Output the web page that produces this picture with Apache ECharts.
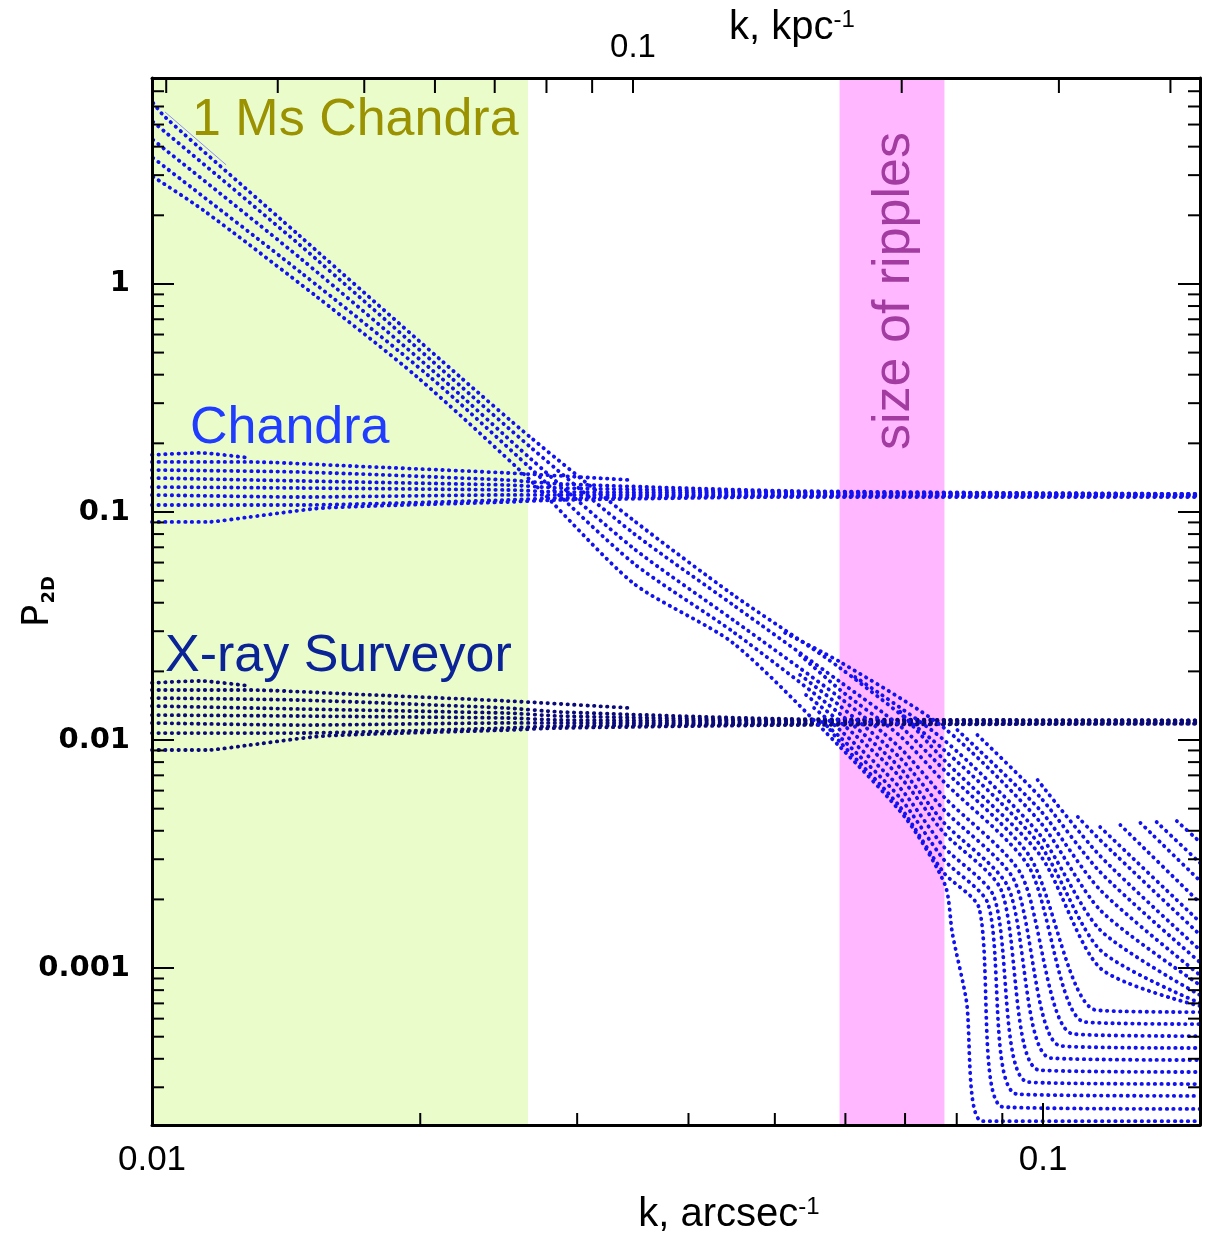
<!DOCTYPE html>
<html>
<head>
<meta charset="utf-8">
<title>P2D vs k</title>
<script src="https://cdn.jsdelivr.net/npm/echarts@6/dist/echarts.min.js"></script>
<style>
  html, body { margin: 0; padding: 0; background: #fff; }
  #chart { width: 1212px; height: 1235px; }
</style>
</head>
<body>
<div id="chart"></div>
<script>
// axis extents
var kRange = [0.01, 0.15];          // k, arcsec^-1
var kpcRange = [0.02892, 0.4317];   // k, kpc^-1 (top axis)
var pRange = [0.000205, 8];         // P_2D

// shaded k ranges
var msChandraBand = [0.01, 0.02642];
var ripplesBand = [0.0591, 0.0775];

// minor ticks (2..9 in each decade)
var pMinorTicks = [0.0003, 0.0004, 0.0005, 0.0006, 0.0007, 0.0008, 0.0009,
  0.002, 0.003, 0.004, 0.005, 0.006, 0.007, 0.008, 0.009,
  0.02, 0.03, 0.04, 0.05, 0.06, 0.07, 0.08, 0.09,
  0.2, 0.3, 0.4, 0.5, 0.6, 0.7, 0.8, 0.9,
  2, 3, 4, 5, 6, 7];
var kMinorTicks = [0.02, 0.03, 0.04, 0.05, 0.06, 0.07, 0.08, 0.09];
var kpcMinorTicks = [0.03, 0.04, 0.05, 0.06, 0.07, 0.08, 0.09, 0.2, 0.3, 0.4];

// Chandra noise band [k, P]
var chandra1 = [[0.01, 0.178], [0.01132, 0.1815], [0.01288, 0.1725]];
var chandra2 = [[0.01, 0.1657], [0.01288, 0.1657], [0.01668, 0.1591], [0.02504, 0.1483], [0.03443, 0.1381]];
var chandra3 = [[0.01, 0.1528], [0.01466, 0.1497], [0.02504, 0.1381], [0.0287, 0.1327], [0.05203, 0.1237], [0.15, 0.1199]];
var chandra4 = [[0.01, 0.141], [0.01466, 0.1368], [0.02504, 0.1313], [0.0287, 0.1274], [0.05203, 0.1224], [0.15, 0.1199]];
var chandra5 = [[0.01, 0.1287], [0.01466, 0.1274], [0.02504, 0.1249], [0.0287, 0.1224], [0.05203, 0.1212], [0.15, 0.1188]];
var chandra6 = [[0.01, 0.1188], [0.01466, 0.1163], [0.02504, 0.1188], [0.0287, 0.1188], [0.05203, 0.1188], [0.15, 0.1188]];
var chandra7 = [[0.01, 0.1073], [0.01466, 0.1073], [0.01898, 0.1095], [0.02504, 0.1129], [0.0287, 0.1151], [0.05203, 0.1175], [0.15, 0.1175]];
var chandra8 = [[0.01, 0.0904], [0.01153, 0.0904], [0.01288, 0.0951], [0.01556, 0.1041], [0.02504, 0.1106], [0.0287, 0.1129], [0.05203, 0.1163], [0.15, 0.1163]];

// X-ray Surveyor noise band
var xrs1 = [[0.01, 0.0178], [0.01132, 0.01815], [0.01288, 0.01725]];
var xrs2 = [[0.01, 0.01657], [0.01288, 0.01657], [0.01668, 0.01591], [0.02504, 0.01483], [0.03443, 0.01381]];
var xrs3 = [[0.01, 0.01528], [0.01466, 0.01497], [0.02504, 0.01381], [0.0287, 0.01327], [0.05203, 0.01237], [0.15, 0.0122]];
var xrs4 = [[0.01, 0.0141], [0.01466, 0.01368], [0.02504, 0.01313], [0.0287, 0.01274], [0.05203, 0.01224], [0.15, 0.0122]];
var xrs5 = [[0.01, 0.01287], [0.01466, 0.01274], [0.02504, 0.01249], [0.0287, 0.01224], [0.05203, 0.01212], [0.15, 0.0121]];
var xrs6 = [[0.01, 0.01188], [0.01466, 0.01163], [0.02504, 0.01188], [0.0287, 0.01188], [0.05203, 0.01188], [0.15, 0.01195]];
var xrs7 = [[0.01, 0.01073], [0.01466, 0.01073], [0.01898, 0.01095], [0.02504, 0.01129], [0.0287, 0.01151], [0.05203, 0.01175], [0.15, 0.0118]];
var xrs8 = [[0.01, 0.00904], [0.01153, 0.00904], [0.01288, 0.00951], [0.01556, 0.01041], [0.02504, 0.01106], [0.0287, 0.01129], [0.05203, 0.01163], [0.15, 0.0118]];

// steep spectra
var steep1 = [[0.01003, 6.22], [0.01034, 5.4], [0.01466, 1.62], [0.02217, 0.391], [0.02657, 0.213], [0.03467, 0.0922], [0.0449, 0.0433], [0.05918, 0.0207], [0.07743, 0.00904], [0.09922, 0.003463], [0.1159, 0.0012], [0.15, 0.000702]];
var steep2 = [[0.01003, 5.13], [0.01466, 1.48], [0.02161, 0.391], [0.02657, 0.193], [0.03467, 0.0809], [0.0449, 0.0391], [0.05918, 0.018], [0.06912, 0.01151], [0.07743, 0.00739], [0.0967, 0.003068], [0.1147, 0.000654], [0.15, 0.000641]];
var steep3 = [[0.01003, 4.28], [0.01466, 1.3], [0.02105, 0.391], [0.02657, 0.172], [0.03467, 0.0695], [0.0449, 0.0336], [0.05918, 0.0153], [0.06912, 0.00923], [0.07743, 0.00562], [0.09447, 0.00258], [0.1081, 0.000514], [0.15, 0.000503]];
var steep4 = [[0.01003, 3.57], [0.01466, 1.13], [0.02051, 0.391], [0.02657, 0.156], [0.03467, 0.0598], [0.0449, 0.0298], [0.05918, 0.013], [0.06912, 0.00754], [0.07743, 0.00433], [0.09135, 0.002266], [0.102, 0.000403], [0.15, 0.000395]];
var steep5 = [[0.01003, 2.95], [0.01141, 2.11], [0.01532, 0.877], [0.01984, 0.391], [0.02657, 0.138], [0.03467, 0.0488], [0.0449, 0.0266], [0.05918, 0.00932], [0.07037, 0.00446], [0.07764, 0.00231], [0.0791, 0.00142], [0.082, 0.000724], [0.08549, 0.000213], [0.15, 0.000213]];
var steepFaint = [[0.01034, 5.68], [0.01211, 3.33]];

// high-k fan
var fanA = [[0.05134, 0.0295], [0.05918, 0.022], [0.07743, 0.0113], [0.09922, 0.00437], [0.1159, 0.001796], [0.15, 0.000842]];
var fanB = [[0.06153, 0.0189], [0.07743, 0.01], [0.09922, 0.003831], [0.1159, 0.001468], [0.15, 0.000761]];
var fanC = [[0.06912, 0.0133], [0.07743, 0.00817], [0.09922, 0.00313], [0.1159, 0.001], [0.15, 0.000681]];
var fanD = [[0.08014, 0.01106], [0.09922, 0.00493], [0.1159, 0.0022], [0.15, 0.000932]];
var fanE = [[0.08439, 0.01052], [0.09922, 0.00562], [0.1159, 0.002637], [0.15, 0.00106]];
var fanF = [[0.0986, 0.00668], [0.1159, 0.0031], [0.15, 0.0012]];
var fanG = [[0.1094, 0.0046], [0.1159, 0.00364], [0.15, 0.0014]];
var fanH = [[0.1159, 0.00415], [0.15, 0.00159]];
var fanI = [[0.1221, 0.00424], [0.15, 0.00193]];
var fanJ = [[0.1286, 0.00433], [0.15, 0.00241]];
var fanK = [[0.1341, 0.00437], [0.15, 0.00289]];
var fanL = [[0.1413, 0.00441], [0.15, 0.00357]];
var fanX1 = [[0.05337, 0.0236], [0.05918, 0.0166], [0.06912, 0.01041], [0.07743, 0.00654], [0.09645, 0.00277], [0.1114, 0.00058], [0.15, 0.000568]];
var fanX2 = [[0.05337, 0.0193], [0.05918, 0.0141], [0.06912, 0.00834], [0.07743, 0.00493], [0.09279, 0.00243], [0.1048, 0.000455], [0.15, 0.000446]];
var fanX3 = [[0.0542, 0.01575], [0.05918, 0.012], [0.06912, 0.00688], [0.07743, 0.00391], [0.08973, 0.0022], [0.09908, 0.000357], [0.15, 0.00035]];
var fanX4 = [[0.05534, 0.01381], [0.05918, 0.01106], [0.06912, 0.00616], [0.07743, 0.00339], [0.0881, 0.00205], [0.09627, 0.000316], [0.15, 0.00031]];
var fanX5 = [[0.05649, 0.012], [0.05918, 0.0103], [0.06912, 0.00557], [0.07743, 0.00298], [0.08676, 0.00191], [0.09358, 0.00028], [0.15, 0.000275]];
var fanX6 = [[0.05768, 0.01106], [0.05918, 0.0098], [0.06912, 0.00508], [0.07743, 0.00261], [0.08476, 0.001833], [0.09018, 0.000246], [0.15, 0.000241]];

var chandraLines = [chandra1, chandra2, chandra3, chandra4, chandra5, chandra6, chandra7, chandra8];
var xrsLines = [xrs1, xrs2, xrs3, xrs4, xrs5, xrs6, xrs7, xrs8];
var modelLines = [steep1, steep2, steep3, steep4, steep5,
  fanA, fanB, fanC, fanD, fanE, fanF, fanG, fanH, fanI, fanJ, fanK, fanL,
  fanX1, fanX2, fanX3, fanX4, fanX5, fanX6];

var BLUE = '#1212f0';
var NAVY = '#0a0a78';
var SANS = '"Liberation Sans", Arial, sans-serif';
var DEJAVU = '"DejaVu Sans", sans-serif';

function dotted(data, color, smooth) {
  return {
    type: 'line', data: data, showSymbol: false, symbol: 'none', silent: true, z: 3,
    smooth: smooth || false,
    lineStyle: { color: color, width: 3.8, type: [0.4, 6.2], cap: 'round' }
  };
}

function tickLine(x1, y1, x2, y2) {
  return { type: 'line', shape: { x1: x1, y1: y1, x2: x2, y2: y2 }, style: { stroke: '#000', lineWidth: 2 } };
}

var series = [];
// shaded bands
series.push({
  type: 'line', data: [[0.01, 1]], showSymbol: false, silent: true, z: 1,
  lineStyle: { opacity: 0 },
  markArea: {
    silent: true,
    data: [
      [{ xAxis: msChandraBand[0], itemStyle: { color: '#ebfccb' } }, { xAxis: msChandraBand[1] }],
      [{ xAxis: ripplesBand[0], itemStyle: { color: '#ffb8ff' } }, { xAxis: ripplesBand[1] }]
    ]
  }
});
chandraLines.forEach(function (d) { series.push(dotted(d, BLUE, 0.2)); });
xrsLines.forEach(function (d) { series.push(dotted(d, NAVY, 0.2)); });
modelLines.forEach(function (d) { series.push(dotted(d, BLUE, 0.25)); });
series.push({
  type: 'line', data: steepFaint, showSymbol: false, silent: true, z: 3,
  lineStyle: { color: '#8c8cff', width: 1 }
});

// minor ticks, left and right
series.push({
  type: 'custom', silent: true, clip: false, z: 12,
  data: pMinorTicks.map(function (v) { return [kRange[0], v]; }),
  renderItem: function (params, api) {
    var cs = params.coordSys;
    var y = api.coord([api.value(0), api.value(1)])[1];
    return { type: 'group', children: [
      tickLine(cs.x, y, cs.x + 12, y),
      tickLine(cs.x + cs.width - 12, y, cs.x + cs.width, y)
    ] };
  }
});
// minor ticks, bottom
series.push({
  type: 'custom', silent: true, clip: false, z: 12,
  data: kMinorTicks.map(function (v) { return [v, pRange[0]]; }),
  renderItem: function (params, api) {
    var cs = params.coordSys;
    var x = api.coord([api.value(0), api.value(1)])[0];
    var yb = cs.y + cs.height;
    return tickLine(x, yb, x, yb - 12);
  }
});
// minor ticks, top (kpc axis)
series.push({
  type: 'custom', silent: true, clip: false, z: 12, xAxisIndex: 1,
  data: kpcMinorTicks.map(function (v) { return [v, pRange[0]]; }),
  renderItem: function (params, api) {
    var cs = params.coordSys;
    var x = api.coord([api.value(0), api.value(1)])[0];
    return tickLine(x, cs.y, x, cs.y + 15);
  }
});

function numLabel(v) { return String(+(+v).toPrecision(2)); }

var axisLine = { show: true, onZero: false, lineStyle: { color: '#000', width: 3 } };

var option = {
  backgroundColor: '#fff',
  animation: false,
  grid: { left: 152, top: 78, width: 1048, height: 1047, containLabel: false, outerBoundsMode: 'none' },
  xAxis: [
    {
      type: 'log', position: 'bottom', min: kRange[0], max: kRange[1], z: 10,
      axisLine: axisLine,
      axisTick: { inside: true, length: 22, lineStyle: { color: '#000', width: 2 } },
      axisLabel: { color: '#000', fontFamily: SANS, fontSize: 35, margin: 18,
        showMinLabel: true, showMaxLabel: false, formatter: numLabel },
      splitLine: { show: false }
    },
    {
      type: 'log', position: 'top', min: kpcRange[0], max: kpcRange[1], z: 10,
      axisLine: axisLine,
      axisTick: { inside: true, length: 15, lineStyle: { color: '#000', width: 2 } },
      axisLabel: { color: '#000', fontFamily: SANS, fontSize: 33, margin: 14,
        showMinLabel: false, showMaxLabel: false, formatter: numLabel },
      splitLine: { show: false }
    }
  ],
  yAxis: [
    {
      type: 'log', position: 'left', min: pRange[0], max: pRange[1], z: 10,
      axisLine: axisLine,
      axisTick: { inside: true, length: 22, lineStyle: { color: '#000', width: 2 } },
      axisLabel: { color: '#000', fontFamily: DEJAVU, fontWeight: 'bold', fontSize: 29, margin: 22,
        showMinLabel: false, showMaxLabel: false, formatter: numLabel },
      splitLine: { show: false },
      name: 'P{s|2D}', nameLocation: 'middle', nameGap: 94, nameRotate: 90, nameMoveOverlap: false,
      nameTextStyle: {
        fontFamily: DEJAVU, fontSize: 37, color: '#000', lineHeight: 40, verticalAlign: 'bottom',
        rich: {
          s: { fontFamily: DEJAVU, fontSize: 18, fontWeight: 'bold', color: '#000', lineHeight: 40,
            verticalAlign: 'bottom', padding: [0, 0, 0, 1] }
        }
      }
    },
    {
      type: 'log', position: 'right', min: pRange[0], max: pRange[1], z: 10,
      axisLine: axisLine,
      axisTick: { inside: true, length: 22, lineStyle: { color: '#000', width: 2 } },
      axisLabel: { show: false },
      splitLine: { show: false }
    }
  ],
  graphic: [
    { type: 'text', x: 729, y: 1215, z: 20, silent: true,
      style: { text: '{a|k, arcsec}{b|-1}', align: 'center', verticalAlign: 'middle',
        rich: { a: { fontFamily: SANS, fontSize: 40, fill: '#000' },
                b: { fontFamily: SANS, fontSize: 24, fill: '#000', verticalAlign: 'top', padding: [0, 0, 14, 0] } } } },
    { type: 'text', x: 792, y: 28, z: 20, silent: true,
      style: { text: '{a|k, kpc}{b|-1}', align: 'center', verticalAlign: 'middle',
        rich: { a: { fontFamily: SANS, fontSize: 40, fill: '#000' },
                b: { fontFamily: SANS, fontSize: 24, fill: '#000', verticalAlign: 'top', padding: [0, 0, 14, 0] } } } },
    { type: 'text', x: 192, y: 121, z: 20, silent: true,
      style: { text: '1 Ms Chandra', fontFamily: SANS, fontSize: 52, fill: '#9a9200', align: 'left', verticalAlign: 'middle' } },
    { type: 'text', x: 190, y: 429, z: 20, silent: true,
      style: { text: 'Chandra', fontFamily: SANS, fontSize: 52, fill: '#1f3cff', align: 'left', verticalAlign: 'middle' } },
    { type: 'text', x: 165, y: 657, z: 20, silent: true,
      style: { text: 'X-ray Surveyor', fontFamily: SANS, fontSize: 52, fill: '#0a2396', align: 'left', verticalAlign: 'middle' } },
    { type: 'text', x: 895, y: 291, z: 20, silent: true, rotation: Math.PI / 2,
      style: { text: 'size of ripples', fontFamily: SANS, fontSize: 52, fill: '#a23ca0', align: 'center', verticalAlign: 'middle' } }
  ],
  series: series
};

var chart = echarts.init(document.getElementById('chart'));
chart.setOption(option);
</script>
</body>
</html>
